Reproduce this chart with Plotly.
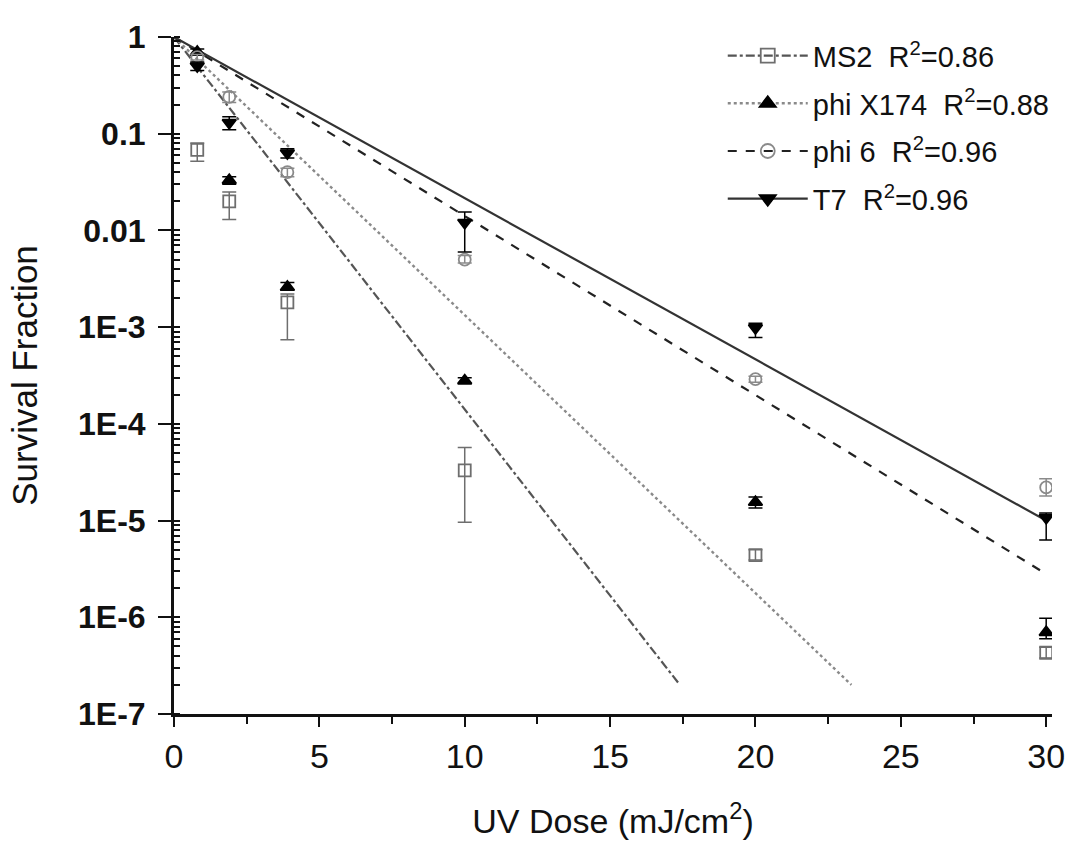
import plotly.graph_objects as go

# ---------------- data ----------------
series_names = ["MS2", "phi X174", "phi 6", "T7"]
r2_values = ["0.86", "0.88", "0.96", "0.96"]

dose = [0.8, 1.9, 3.9, 10, 20, 30]

ms2_y = [0.068, 0.020, 1.8e-3, 3.3e-5, 4.4e-6, 4.3e-7]
ms2_hi = [0.080, 0.025, 2.2e-3, 5.7e-5, 5.0e-6, 4.9e-7]
ms2_lo = [0.052, 0.013, 7.4e-4, 9.6e-6, 3.9e-6, 3.8e-7]

phix_y = [0.70, 0.033, 2.6e-3, 2.8e-4, 1.55e-5, 7.0e-7]
phix_hi = [0.75, 0.036, 2.9e-3, 3.0e-4, 1.75e-5, 9.8e-7]
phix_lo = [0.65, 0.030, 2.4e-3, 2.6e-4, 1.35e-5, 6.0e-7]

phi6_y = [0.62, 0.24, 0.040, 5.0e-3, 2.9e-4, 2.2e-5]
phi6_hi = [0.66, 0.27, 0.044, 5.5e-3, 3.1e-4, 2.7e-5]
phi6_lo = [0.58, 0.21, 0.036, 4.6e-3, 2.7e-4, 1.8e-5]

t7_y = [0.50, 0.13, 0.063, 0.012, 9.8e-4, 1.07e-5]
t7_hi = [0.55, 0.15, 0.070, 0.0155, 1.1e-3, 1.2e-5]
t7_lo = [0.45, 0.11, 0.056, 0.0060, 7.8e-4, 6.3e-6]

# fitted lines (end points)
ms2_fit_x, ms2_fit_y = [0, 17.4], [1, 2.0e-7]
phix_fit_x, phix_fit_y = [0, 23.3], [1, 2.0e-7]
phi6_fit_x, phi6_fit_y = [0, 30], [1, 2.8e-6]
t7_fit_x, t7_fit_y = [0, 30], [1, 1.0e-5]

y_tickvals = [1, 0.1, 0.01, 1e-3, 1e-4, 1e-5, 1e-6, 1e-7]
y_ticktext = ["1", "0.1", "0.01", "1E-3", "1E-4", "1E-5", "1E-6", "1E-7"]
x_tickvals = [0, 5, 10, 15, 20, 25, 30]

# ---------------- styles ----------------
styles = [
    dict(symbol="square-open", mcolor="#6e6e6e", lcolor="#555555", dash="dashdot", width=2.2),
    dict(symbol="triangle-up", mcolor="#000000", lcolor="#8a8a8a", dash="dot", width=2.4),
    dict(symbol="circle-open", mcolor="#8a8a8a", lcolor="#222222", dash="dash", width=2.2),
    dict(symbol="triangle-down", mcolor="#000000", lcolor="#333333", dash="solid", width=2.2),
]

data_sets = [
    (ms2_y, ms2_hi, ms2_lo, ms2_fit_x, ms2_fit_y),
    (phix_y, phix_hi, phix_lo, phix_fit_x, phix_fit_y),
    (phi6_y, phi6_hi, phi6_lo, phi6_fit_x, phi6_fit_y),
    (t7_y, t7_hi, t7_lo, t7_fit_x, t7_fit_y),
]

fig = go.Figure()

# fit lines
for (yv, hi, lo, fx, fy), st in zip(data_sets, styles):
    fig.add_trace(go.Scatter(
        x=fx, y=fy, mode="lines", showlegend=False,
        line=dict(color=st["lcolor"], dash=st["dash"], width=st["width"]),
        hoverinfo="skip"))

# data points with error bars
for (yv, hi, lo, fx, fy), st in zip(data_sets, styles):
    plus = [h - v for h, v in zip(hi, yv)]
    minus = [v - l for v, l in zip(yv, lo)]
    fig.add_trace(go.Scatter(
        x=dose, y=yv, mode="markers", showlegend=False,
        marker=dict(symbol=st["symbol"], size=12, color=st["mcolor"],
                    line=dict(color=st["mcolor"], width=1.8)),
        error_y=dict(type="data", symmetric=False, array=plus, arrayminus=minus,
                     color=st["mcolor"], thickness=1.5, width=7)))

# legend entries
for name, r2, st in zip(series_names, r2_values, styles):
    fig.add_trace(go.Scatter(
        x=[None], y=[None], mode="lines+markers",
        name=f"{name}  R<sup>2</sup>=" + r2, legendgroup=name,
        marker=dict(symbol=st["symbol"], size=14, color=st["mcolor"],
                    line=dict(color=st["mcolor"], width=1.8)),
        line=dict(color=st["lcolor"], dash=st["dash"], width=st["width"])))

FONT = "Liberation Sans, Arial, sans-serif"

fig.update_layout(
    width=1076, height=842,
    paper_bgcolor="white", plot_bgcolor="white",
    margin=dict(l=174, r=24, t=37, b=128),
    font=dict(family=FONT, size=28, color="#111111"),
    showlegend=True,
    legend=dict(x=0.625, y=1.01, xanchor="left", yanchor="top",
                bgcolor="rgba(255,255,255,0)", borderwidth=0,
                font=dict(family=FONT, size=29, color="#111111"),
                itemwidth=80, tracegroupgap=7),
    xaxis=dict(
        range=[0, 30.2], tickmode="array", tickvals=x_tickvals, automargin=False,
        showline=True, linecolor="#111111", linewidth=3, mirror=False,
        ticks="outside", ticklen=10, tickwidth=2, tickcolor="#111111",
        minor=dict(ticks="outside", ticklen=7, tickwidth=2, dtick=2.5, tickcolor="#111111"),
        showgrid=False, zeroline=False,
        tickfont=dict(family=FONT, size=34, color="#111111"),
        title=dict(text="UV Dose (mJ/cm<sup>2</sup>)", standoff=36,
                   font=dict(family=FONT, size=34, color="#111111")),
    ),
    yaxis=dict(
        type="log", range=[-7, 0.0], tickmode="array", automargin=False,
        tickvals=y_tickvals, ticktext=y_ticktext,
        showline=True, linecolor="#111111", linewidth=3,
        ticks="outside", ticklen=13, tickwidth=2, tickcolor="#111111",
        ticklabelstandoff=6,
        minor=dict(ticks="inside", ticklen=6, tickwidth=1.5, tickcolor="#111111", dtick="D1"),
        showgrid=False, zeroline=False,
        tickfont=dict(family=FONT, size=32, color="#111111", weight="bold"),
        title=dict(text="Survival Fraction", standoff=30,
                   font=dict(family=FONT, size=35, color="#111111")),
    ),
)

fig.write_html("out.html", post_script="document.body.style.margin='0px';",
               config={"displayModeBar": False})
